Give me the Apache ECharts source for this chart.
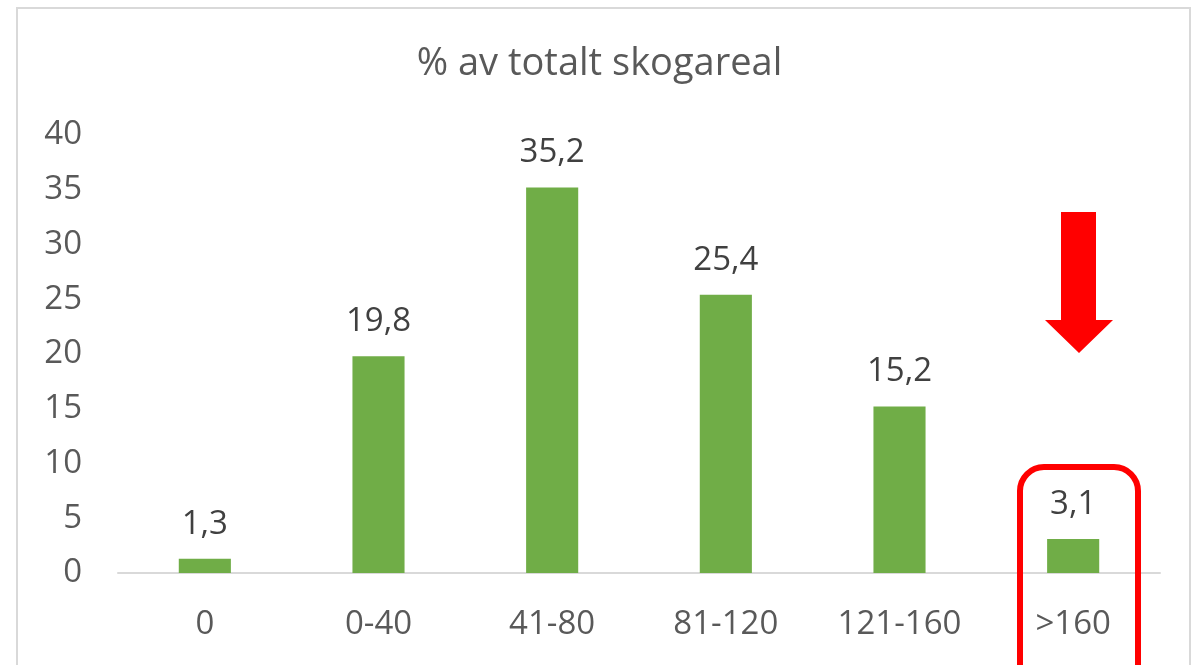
<!DOCTYPE html>
<html>
<head>
<meta charset="utf-8">
<script src="https://cdn.jsdelivr.net/npm/echarts@6/dist/echarts.min.js"></script>
<style>html,body{margin:0;padding:0;background:#fff}#c{width:1199px;height:665px}</style>
</head>
<body>
<div id="c"></div>
<script>
const categories = ['0', '0-40', '41-80', '81-120', '121-160', '>160'];
const values = [1.3, 19.8, 35.2, 25.4, 15.2, 3.1];
const yTicks = [0, 5, 10, 15, 20, 25, 30, 35, 40];
const title = '% av totalt skogareal';

const FONT = '"Open Sans", sans-serif';
const chart = echarts.init(document.getElementById('c'));
chart.setOption({
  animation: false,
  backgroundColor: '#ffffff',
  title: {
    text: title, left: 'center', top: 40,
    textStyle: { fontFamily: FONT, fontSize: 38, fontWeight: 'normal', color: '#595959' }
  },
  grid: { left: 118, right: 39, top: 135, bottom: 92 },
  xAxis: {
    type: 'category', data: categories,
    axisLine: { lineStyle: { color: '#d9d9d9', width: 2 } },
    axisTick: { show: false },
    axisLabel: { fontFamily: FONT, fontSize: 33, color: '#595959', margin: 35 }
  },
  yAxis: {
    type: 'value', min: yTicks[0], max: yTicks[yTicks.length - 1], interval: 5,
    splitLine: { show: false },
    axisLine: { show: false }, axisTick: { show: false },
    axisLabel: { fontFamily: FONT, fontSize: 33, color: '#595959', margin: 36 }
  },
  series: [{
    type: 'bar', data: values, barWidth: '30%',
    itemStyle: { color: '#70AD47' },
    label: {
      show: true, position: 'top', distance: 18,
      fontFamily: FONT, fontSize: 33, color: '#404040',
      formatter: p => String(p.value).replace('.', ',')
    }
  }],
  graphic: [
    { type: 'rect', shape: { x: 17, y: 8, width: 1173, height: 700 },
      style: { fill: 'none', stroke: '#d9d9d9', lineWidth: 2 }, z: -1 },
    { type: 'polygon', shape: { points: [[1061,212],[1096,212],[1096,320],[1113,320],[1079,353],[1045,320],[1061,320]] },
      style: { fill: '#ff0000' }, z: 10 },
    { type: 'rect', shape: { x: 1020, y: 467, width: 118, height: 230, r: 24 },
      style: { fill: 'none', stroke: '#ff0000', lineWidth: 6 }, z: 10 }
  ]
});
</script>
</body>
</html>
